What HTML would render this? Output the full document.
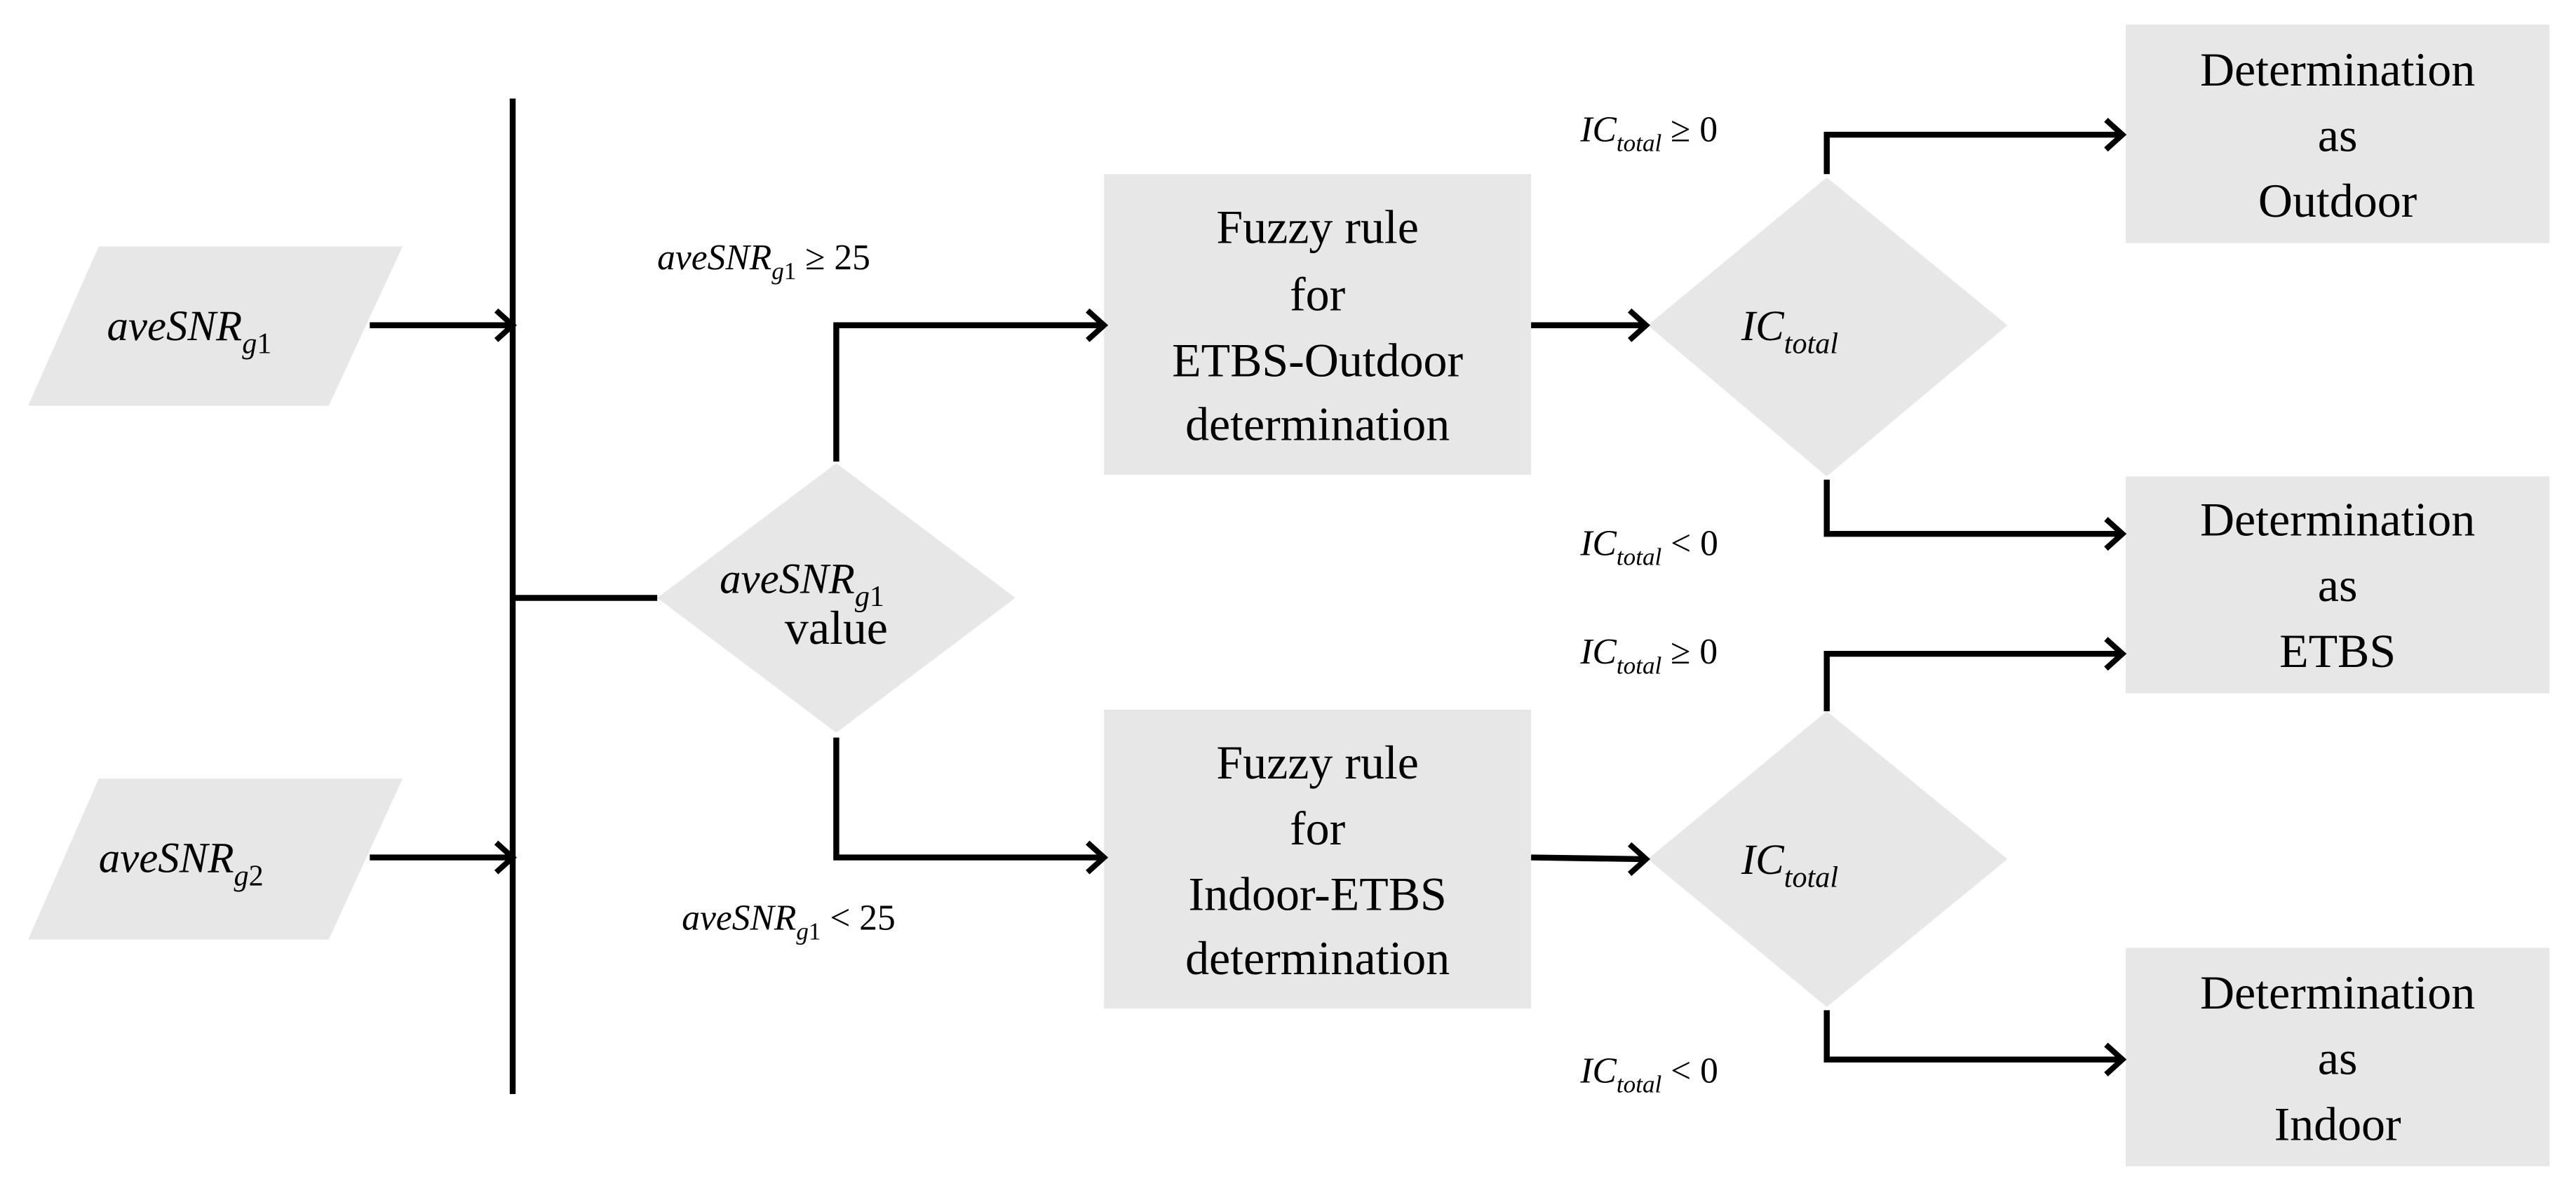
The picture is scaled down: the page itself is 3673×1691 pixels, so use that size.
<!DOCTYPE html>
<html><head><meta charset="utf-8"><style>html,body{margin:0;padding:0;background:#fff}svg{display:block}</style></head>
<body>
<svg xmlns="http://www.w3.org/2000/svg" width="3673" height="1691" viewBox="0 0 1568 722">
<rect width="1568" height="722" fill="#fff"/>
<g fill="#e7e7e7">
<polygon points="60,150 245,150 200,247 17,247"/>
<polygon points="60,474 245,474 200,572 17,572"/>
<polygon points="509,282 618,364 509,446 400,364"/>
<rect x="672" y="106" width="260" height="183"/>
<rect x="672" y="432" width="260" height="182"/>
<polygon points="1112,108 1222,198 1112,290 1003,198"/>
<polygon points="1112,433 1222,523 1112,613 1003,523"/>
<rect x="1294" y="15" width="258" height="133"/>
<rect x="1294" y="290" width="258" height="132"/>
<rect x="1294" y="577" width="258" height="133"/>
</g>
<g stroke="#000" stroke-width="3.6" fill="none">
<line x1="312" y1="60" x2="312" y2="666"/>
<line x1="225" y1="198" x2="310" y2="198"/>
<line x1="225" y1="522" x2="310" y2="522"/>
<line x1="312" y1="364" x2="400" y2="364"/>
<polyline points="509,281 509,198 670,198"/>
<polyline points="509,449 509,522 670,522"/>
<line x1="932" y1="198" x2="1000" y2="198"/>
<line x1="932" y1="522" x2="1000" y2="523"/>
<polyline points="1112,106 1112,82 1290,82"/>
<polyline points="1112,292 1112,325 1290,325"/>
<polyline points="1112,433 1112,398 1290,398"/>
<polyline points="1112,615 1112,645 1290,645"/>
<g stroke-width="3.4">
<polyline points="302,189 312,198 302,207"/>
<polyline points="302,513 312,522 302,531"/>
<polyline points="662,189 672,198 662,207"/>
<polyline points="662,513 672,522 662,531"/>
<polyline points="992,189 1002,198 992,207"/>
<polyline points="992,514 1002,523 992,532"/>
<polyline points="1282,73 1292,82 1282,91"/>
<polyline points="1282,316 1292,325 1282,334"/>
<polyline points="1282,389 1292,398 1282,407"/>
<polyline points="1282,636 1292,645 1282,654"/>
</g>
</g>
<g font-family="Liberation Serif, serif" fill="#000" text-anchor="middle" font-size="29">
<text x="802" y="148">Fuzzy rule</text>
<text x="802" y="189">for</text>
<text x="802" y="229">ETBS-Outdoor</text>
<text x="802" y="268">determination</text>
<text x="802" y="474">Fuzzy rule</text>
<text x="802" y="514">for</text>
<text x="802" y="554">Indoor-ETBS</text>
<text x="802" y="593">determination</text>
<text x="1423" y="52">Determination</text>
<text x="1423" y="92">as</text>
<text x="1423" y="132">Outdoor</text>
<text x="1423" y="326">Determination</text>
<text x="1423" y="366">as</text>
<text x="1423" y="406">ETBS</text>
<text x="1423" y="614">Determination</text>
<text x="1423" y="654">as</text>
<text x="1423" y="694">Indoor</text>
<text x="509" y="392">value</text>
</g>
<g font-family="Liberation Serif, serif" fill="#000" font-size="26">
<text x="65" y="207"><tspan font-style="italic">aveSNR</tspan><tspan font-style="italic" font-size="18" dy="8">g</tspan><tspan font-size="18">1</tspan></text>
<text x="60" y="531"><tspan font-style="italic">aveSNR</tspan><tspan font-style="italic" font-size="18" dy="8">g</tspan><tspan font-size="18">2</tspan></text>
<text x="438" y="361"><tspan font-style="italic">aveSNR</tspan><tspan font-style="italic" font-size="18" dy="8">g</tspan><tspan font-size="18">1</tspan></text>
<text x="1060" y="207"><tspan font-style="italic">IC</tspan><tspan font-style="italic" font-size="18" dy="8">total</tspan></text>
<text x="1060" y="532"><tspan font-style="italic">IC</tspan><tspan font-style="italic" font-size="18" dy="8">total</tspan></text>
</g>
<g font-family="Liberation Serif, serif" fill="#000" font-size="22">
<text x="400" y="164"><tspan font-style="italic">aveSNR</tspan><tspan font-style="italic" font-size="15" dy="6">g</tspan><tspan font-size="15">1</tspan><tspan dy="-6"> ≥ 25</tspan></text>
<text x="415" y="566"><tspan font-style="italic">aveSNR</tspan><tspan font-style="italic" font-size="15" dy="6">g</tspan><tspan font-size="15">1</tspan><tspan dy="-6"> &lt; 25</tspan></text>
<text x="962" y="86"><tspan font-style="italic">IC</tspan><tspan font-style="italic" font-size="15" dy="6">total</tspan><tspan dy="-6"> ≥ 0</tspan></text>
<text x="962" y="338"><tspan font-style="italic">IC</tspan><tspan font-style="italic" font-size="15" dy="6">total</tspan><tspan dy="-6"> &lt; 0</tspan></text>
<text x="962" y="404"><tspan font-style="italic">IC</tspan><tspan font-style="italic" font-size="15" dy="6">total</tspan><tspan dy="-6"> ≥ 0</tspan></text>
<text x="962" y="659"><tspan font-style="italic">IC</tspan><tspan font-style="italic" font-size="15" dy="6">total</tspan><tspan dy="-6"> &lt; 0</tspan></text>
</g>
</svg>
</body></html>
